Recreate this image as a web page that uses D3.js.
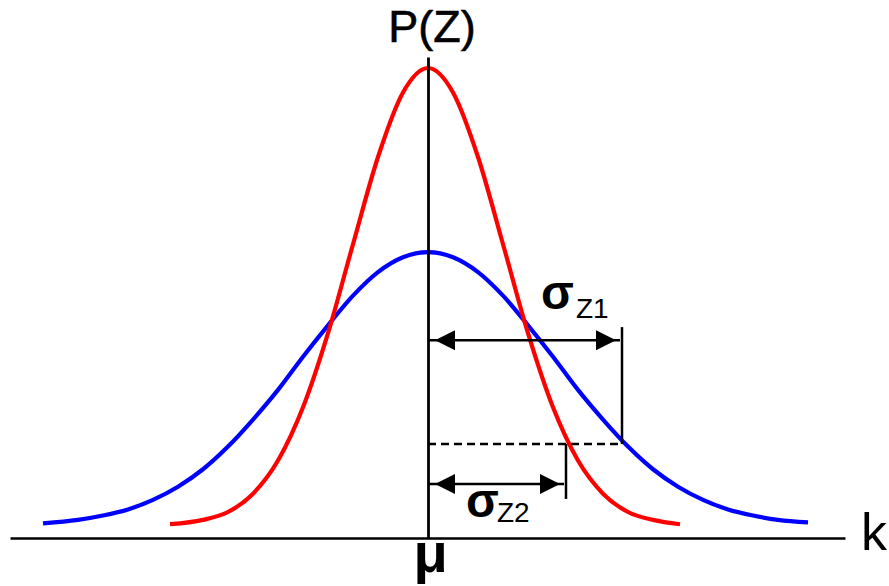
<!DOCTYPE html>
<html>
<head>
<meta charset="utf-8">
<script src="https://cdn.jsdelivr.net/npm/d3@7"></script>
<style>
  html, body { margin: 0; padding: 0; background: #fff; }
  svg { display: block; }
  text { font-family: "Liberation Sans", Arial, sans-serif; fill: #000; }
</style>
</head>
<body>
<svg id="chart" width="889" height="586"></svg>
<script>
// Wide distribution P(Z1): k positions and density values
const blueK = [-3.85, -3.5, -3.25, -3, -2.75, -2.5, -2.25, -2, -1.75, -1.5, -1.25, -1, -0.75, -0.5, -0.25,
               0, 0.25, 0.5, 0.75, 1, 1.25, 1.5, 1.75, 2, 2.25, 2.5, 2.75, 3, 3.25, 3.5, 3.8];
const blueP = [0.003, 0.007, 0.012, 0.019, 0.030, 0.045, 0.065, 0.091, 0.122, 0.156, 0.194, 0.230, 0.264, 0.291, 0.308,
               0.314, 0.308, 0.291, 0.264, 0.230, 0.194, 0.156, 0.122, 0.091, 0.065, 0.045, 0.030, 0.019, 0.012, 0.007, 0.004];

// Narrow distribution P(Z2)
const redK = [-2.58, -2.25, -2, -1.75, -1.5, -1.25, -1, -0.75, -0.5, -0.25,
              0, 0.25, 0.5, 0.75, 1, 1.25, 1.5, 1.75, 2, 2.25, 2.52];
const redP = [0.002, 0.007, 0.016, 0.037, 0.075, 0.136, 0.221, 0.323, 0.423, 0.497,
              0.525, 0.497, 0.423, 0.323, 0.221, 0.136, 0.075, 0.037, 0.016, 0.007, 0.002];

// Width markers: where each curve drops to the common reference level
const refLevel = 0.094;
const sigmaK = [1.94, 1.38];          // sigma_Z1, sigma_Z2
const sigmaArrowP = [0.213, 0.048];   // height of each double arrow
const sigmaTickP = [[0.228, refLevel], [refLevel, 0.031]];
const sigmaLabels = ["Z1", "Z2"];

const svg = d3.select("#chart");

const x = d3.scaleLinear().domain([-4.18, 4.17]).range([10, 845]);
const y = d3.scaleLinear().domain([-0.0138, 0.5376]).range([538, 57]);

const line = d3.line()
  .x(d => x(d[0]))
  .y(d => y(d[1]))
  .curve(d3.curveMonotoneX);

// Curves
svg.append("path")
  .datum(blueK.map((k, i) => [k, blueP[i]]))
  .attr("d", line)
  .attr("fill", "none")
  .attr("stroke", "#0000ff")
  .attr("stroke-width", 4.2);

svg.append("path")
  .datum(redK.map((k, i) => [k, redP[i]]))
  .attr("d", line)
  .attr("fill", "none")
  .attr("stroke", "#ff0000")
  .attr("stroke-width", 4.2);

// Horizontal axis with the mean marked as mu
const xAxis = svg.append("g")
  .attr("transform", `translate(0,${y.range()[0]})`)
  .call(d3.axisBottom(x).tickValues([0]).tickFormat(() => "\u03bc").tickSize(0).tickSizeOuter(0));
xAxis.select(".domain").attr("stroke", "#000").attr("stroke-width", 2.5);
xAxis.selectAll(".tick text")
  .attr("y", 34).attr("dy", null)
  .attr("dx", 2)
  .style("font-size", "56px").style("font-weight", "bold")
  .style("font-family", "'Liberation Sans', Arial, sans-serif");

// Vertical axis through the mean
const yAxis = svg.append("g")
  .attr("transform", `translate(${x(0)},0)`)
  .call(d3.axisLeft(y).tickValues([]).tickSizeOuter(0));
yAxis.select(".domain").attr("stroke", "#000").attr("stroke-width", 2.8);

// Axis titles
svg.append("text")
  .attr("x", x(0) + 4).attr("y", 42)
  .attr("text-anchor", "middle")
  .style("font-size", "45px")
  .style("stroke", "#000").style("stroke-width", 0.6)
  .text("P(Z)");

svg.append("text")
  .attr("x", 861).attr("y", 550)
  .style("font-size", "52px")
  .text("k");

// Reference level (dashed)
svg.append("line")
  .attr("x1", x(0)).attr("x2", x(sigmaK[0]))
  .attr("y1", y(refLevel)).attr("y2", y(refLevel))
  .attr("stroke", "#000").attr("stroke-width", 2.5)
  .attr("stroke-dasharray", "8,5");

// Double arrows and end ticks
const head = 20, half = 10, inset = 7;
sigmaK.forEach((k, i) => {
  const x0 = x(0), x1 = x(k), ya = y(sigmaArrowP[i]);
  const g = svg.append("g");
  g.append("line")
    .attr("x1", x1).attr("x2", x1)
    .attr("y1", y(sigmaTickP[i][0])).attr("y2", y(sigmaTickP[i][1]))
    .attr("stroke", "#000").attr("stroke-width", 2.5);
  g.append("line")
    .attr("x1", x0).attr("x2", x1 - 2)
    .attr("y1", ya).attr("y2", ya)
    .attr("stroke", "#000").attr("stroke-width", 2.5);
  const lt = x0 + inset, rt = x1 - inset + 1;
  g.append("path")
    .attr("d", `M${lt},${ya} L${lt + head},${ya - half} L${lt + head},${ya + half} Z`)
    .attr("fill", "#000");
  g.append("path")
    .attr("d", `M${rt},${ya} L${rt - head},${ya - half} L${rt - head},${ya + half} Z`)
    .attr("fill", "#000");
});

// Sigma labels
const labelPos = [[541, 309, 576, 318], [466, 517, 497, 522]];
sigmaLabels.forEach((s, i) => {
  const p = labelPos[i];
  svg.append("text")
    .attr("x", p[0]).attr("y", p[1])
    .style("font-size", "48px").style("font-weight", "bold")
    .text("\u03c3");
  svg.append("text")
    .attr("x", p[2]).attr("y", p[3])
    .style("font-size", "28px")
    .text(s);
});
</script>
</body>
</html>
